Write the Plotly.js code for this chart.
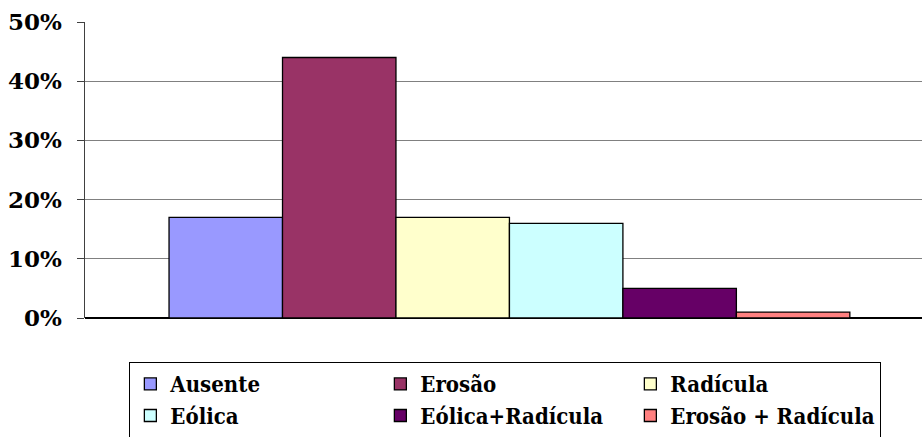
<!DOCTYPE html>
<html>
<head>
<meta charset="utf-8">
<script src="https://cdn.plot.ly/plotly-3.0.1.min.js"></script>
<style>
  html, body { margin: 0; padding: 0; background: #ffffff; overflow: hidden; }
  #chart { width: 922px; height: 452px; }
</style>
</head>
<body>
<div id="chart"></div>
<script>
// Single category, one bar per damage type
const category = ['Total'];
const seriesNames = ['Ausente', 'Erosão', 'Radícula', 'Eólica', 'Eólica+Radícula', 'Erosão + Radícula'];
const seriesValues = [0.17, 0.44, 0.17, 0.16, 0.05, 0.01];
const seriesColors = ['#9999FF', '#993366', '#FFFFCC', '#CCFFFF', '#660066', '#FF8080'];
const yTickValues = [0, 0.1, 0.2, 0.3, 0.4, 0.5];
const yTickLabels = ['0%', '10%', '20%', '30%', '40%', '50%'];

const serif = 'DejaVu Serif';
const serifNarrow = 'DejaVu Serif Condensed, DejaVu Serif';

const traces = seriesNames.map((name, i) => ({
  type: 'bar',
  name: name,
  x: category,
  y: [seriesValues[i]],
  marker: { color: seriesColors[i], line: { color: '#000000', width: 1.3 } },
  hoverinfo: 'skip'
}));

const layout = {
  width: 922,
  height: 452,
  margin: { l: 85, r: 0, t: 22, b: 134 },
  paper_bgcolor: '#ffffff',
  plot_bgcolor: '#ffffff',
  font: { family: serif },
  barmode: 'group',
  bargap: 0.198,
  bargroupgap: 0,
  showlegend: true,
  xaxis: {
    type: 'category',
    range: [-0.5, 0.486],
    showticklabels: false,
    showgrid: false,
    zeroline: false,
    showline: false,
    ticks: ''
  },
  yaxis: {
    range: [0, 0.5],
    tickvals: yTickValues,
    ticktext: yTickLabels,
    showgrid: true,
    gridcolor: '#808080',
    gridwidth: 1,
    zeroline: true,
    zerolinecolor: '#000000',
    zerolinewidth: 1.5,
    showline: true,
    linecolor: '#404040',
    linewidth: 1.5,
    ticks: 'outside',
    ticklen: 7,
    tickcolor: '#404040',
    ticklabelstandoff: 10,
    tickfont: { family: serif, size: 23, color: '#000000', weight: 'bold' },
    fixedrange: true
  },
  legend: {
    orientation: 'h',
    x: 0.053,
    xanchor: 'left',
    y: -0.149,
    yanchor: 'top',
    entrywidth: 205,
    traceorder: 'normal',
    bordercolor: '#000000',
    borderwidth: 1,
    bgcolor: '#ffffff',
    font: { family: serifNarrow, size: 22, color: '#000000', weight: 'bold' }
  }
};

Plotly.newPlot('chart', traces, layout, { staticPlot: true, displayModeBar: false });
</script>
</body>
</html>
